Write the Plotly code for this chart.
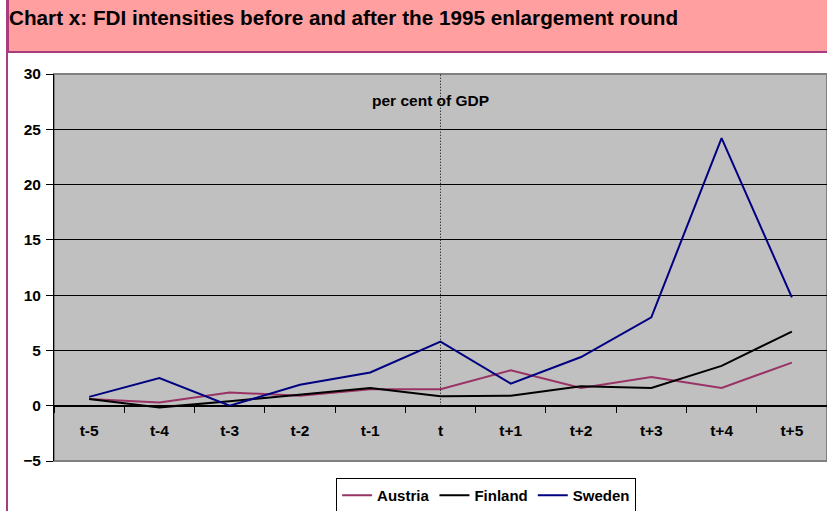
import plotly.graph_objects as go

categories = ["t-5", "t-4", "t-3", "t-2", "t-1", "t", "t+1", "t+2", "t+3", "t+4", "t+5"]
austria = [0.6, 0.3, 1.2, 0.9, 1.5, 1.5, 3.2, 1.6, 2.6, 1.6, 3.9]
finland = [0.6, -0.15, 0.4, 1.0, 1.6, 0.85, 0.9, 1.75, 1.6, 3.6, 6.7]
sweden = [0.8, 2.5, 0.0, 1.9, 3.0, 5.8, 2.0, 4.4, 8.0, 24.2, 9.8]
y_ticks = [-5, 0, 5, 10, 15, 20, 25, 30]

FONT = "Liberation Sans, Arial, sans-serif"
FS = 15.5
xs = list(range(len(categories)))
xr = [-0.5, len(categories) - 0.5]
yr = [y_ticks[0], y_ticks[-1]]
zero_pos = (0 - yr[0]) / (yr[1] - yr[0])

fig = go.Figure()
series = [("Austria", austria, "#993366"), ("Finland", finland, "#000000"), ("Sweden", sweden, "#000080")]
for name, vals, col in series:
    fig.add_trace(go.Scatter(x=xs, y=vals, name=name, mode="lines",
                             line=dict(color=col, width=2)))

enl = categories.index("t")

fig.update_layout(
    width=827, height=511,
    margin=dict(l=54, r=0, t=74, b=50, autoexpand=False),
    paper_bgcolor="white",
    plot_bgcolor="#C0C0C0",
    font=dict(family=FONT, size=FS, color="black"),
    showlegend=True,
    legend=dict(orientation="h", x=0.559, xanchor="center",
                yref="container", y=(511 - 478) / 511, yanchor="top",
                bordercolor="black", borderwidth=1, bgcolor="white",
                font=dict(family=FONT, size=15, weight="bold"),
                itemwidth=30, tracegroupgap=0),
    xaxis=dict(range=xr, showgrid=False, showticklabels=False, ticks="",
               zeroline=False, showline=False),
    xaxis2=dict(range=xr, overlaying="x", anchor="free", position=zero_pos,
                tickvals=[i - 0.5 for i in range(len(categories) + 1)],
                showticklabels=False, ticks="outside", ticklen=6, tickcolor="black",
                showline=True, linecolor="black", linewidth=1, showgrid=False, zeroline=False),
    xaxis3=dict(range=xr, overlaying="x", anchor="free", position=zero_pos,
                tickvals=xs, ticktext=categories, ticks="outside", ticklen=11,
                tickcolor="rgba(0,0,0,0)", showline=False, showgrid=False, zeroline=False,
                tickfont=dict(family=FONT, size=FS, weight="bold")),
    yaxis=dict(range=yr, tickvals=y_ticks, showgrid=True, gridcolor="black", gridwidth=1,
               zeroline=True, zerolinecolor="black", zerolinewidth=1,
               ticks="outside", ticklen=7, tickcolor="black", ticklabelstandoff=2,
               showline=True, linecolor="black", linewidth=1,
               tickfont=dict(family=FONT, size=FS, weight="bold")),
)

# dummy traces to activate overlay axes
fig.add_trace(go.Scatter(x=[xs[0]], y=[None], xaxis="x2", showlegend=False, hoverinfo="skip"))
fig.add_trace(go.Scatter(x=[xs[0]], y=[None], xaxis="x3", showlegend=False, hoverinfo="skip"))

# plot-area frame (top/bottom gray)
fig.add_shape(type="rect", xref="x domain", yref="y domain", x0=0, x1=1, y0=0, y1=1,
              line=dict(color="#808080", width=2), layer="below")
# enlargement marker
fig.add_shape(type="line", xref="x", yref="y", x0=enl, x1=enl, y0=0, y1=yr[1],
              line=dict(color="black", width=1, dash="1px,2px"))
fig.add_annotation(x=enl, y=27.6, xref="x", yref="y", text="<b>per cent of GDP</b>",
                   showarrow=False, xshift=-10, font=dict(family=FONT, size=FS))

# outer chart border and header band
fig.add_shape(type="rect", xref="paper", yref="paper", x0=-0.0608, x1=1.02, y0=-0.2, y1=1.2,
              line=dict(color="#A83C7C", width=2), fillcolor="rgba(0,0,0,0)", layer="above")
fig.add_shape(type="rect", xref="paper", yref="paper", x0=-0.0595, x1=1.02, y0=1.0568, y1=1.2,
              line=dict(color="#A83C7C", width=2), fillcolor="#FF9F9F", layer="below")
fig.add_annotation(xref="paper", yref="paper", x=-0.0605, y=1.147, xanchor="left", yanchor="middle",
                   text="<b>Chart x: FDI intensities before and after the 1995 enlargement round</b>",
                   showarrow=False, font=dict(family=FONT, size=20.7, color="black"))

fig.write_html("out.html", config={"displayModeBar": False},
               post_script="document.body.style.margin='0';")
